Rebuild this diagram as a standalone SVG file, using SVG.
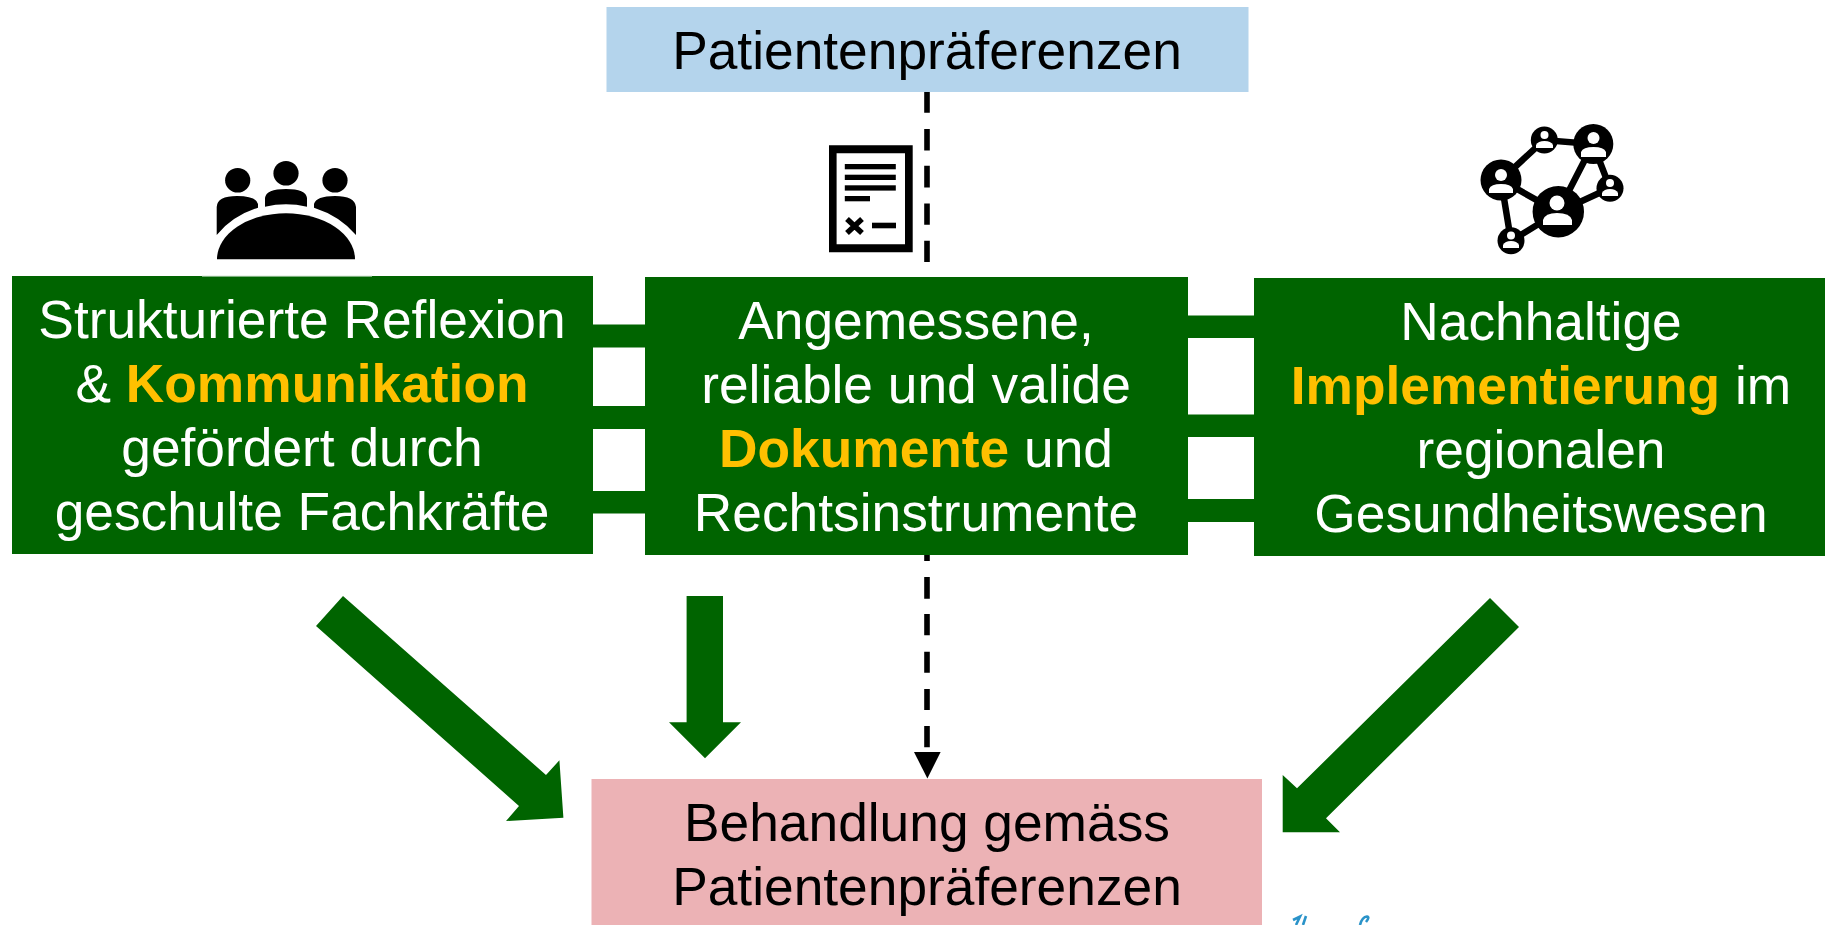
<svg xmlns="http://www.w3.org/2000/svg" width="1825" height="925" viewBox="0 0 1825 925">
<style>
.g{fill:#006400}
text{font-family:"Liberation Sans",Arial,sans-serif;font-size:53.3px;text-anchor:middle}
.w{fill:#fff}.k{fill:#000}.y{fill:#ffc000;font-weight:700}
.d{stroke:#000;stroke-width:5.6;fill:none}
.i{fill:#000}.c{fill:#fff}
</style>
<rect width="1825" height="925" fill="#fff"/>
<g id="connectors">
<g class="g">
<rect x="590" y="324.5" width="60" height="23"/><rect x="590" y="406" width="60" height="23"/><rect x="590" y="491" width="60" height="22.5"/>
<rect x="1185" y="315.5" width="72" height="22.5"/><rect x="1185" y="414.5" width="72" height="22.5"/><rect x="1185" y="499" width="72" height="23"/>
<polygon points="343,596 316,626 519,806 506,821 563.4,817.7 559.4,760.3 546,775"/>
<polygon points="686.6,596 723,596 723,722.3 741,722.3 705,758.3 669,722.3 686.6,722.3"/>
<polygon points="1490,598 1519,627 1326,818.3 1340,832.3 1282.7,832.3 1282.7,775 1297,788.3"/>
</g>
<path class="d" stroke-dasharray="20.7 16.4 21.3 15.4 21.6 16 21.4 16 21.7" d="M927 92V262"/>
<path class="d" stroke-dasharray="6 16 21.7 15.3 21.3 16.4 21 16.3 21 16 21.3" d="M927 555V747.3"/>
<polygon class="k" points="914,752 940.6,752 927.4,778.5"/>
</g>
<g id="n-top"><rect x="606.5" y="7" width="642" height="85" fill="#b4d4ec"/><text class="k" x="927" y="68.5">Patientenpräferenzen</text></g>
<g id="n-left"><rect x="12" y="276" width="581" height="278" class="g"/>
<text class="w" x="302" y="337.5">Strukturierte Reflexion</text>
<text class="w" x="302" y="401.5">&amp; <tspan class="y">Kommunikation</tspan></text>
<text class="w" x="302" y="465.5">gefördert durch</text>
<text class="w" x="302" y="529.5">geschulte Fachkräfte</text></g>
<g id="n-center"><rect x="645" y="277" width="543" height="278" class="g"/>
<text class="w" x="916" y="338.5">Angemessene,</text>
<text class="w" x="916" y="402.5">reliable und valide</text>
<text class="w" x="916" y="466.5"><tspan class="y">Dokumente</tspan> und</text>
<text class="w" x="916" y="530.5">Rechtsinstrumente</text></g>
<g id="n-right"><rect x="1254" y="278" width="571" height="278" class="g"/>
<text class="w" x="1541" y="339.5">Nachhaltige</text>
<text class="w" x="1541" y="404"><tspan class="y">Implementierung</tspan> im</text>
<text class="w" x="1541" y="468">regionalen</text>
<text class="w" x="1541" y="531.5">Gesundheitswesen</text></g>
<g id="n-bottom"><rect x="591.5" y="779" width="670.5" height="146" fill="#ecb2b5"/>
<text class="k" x="927" y="840.5">Behandlung gemäss</text>
<text class="k" x="927" y="904.5">Patientenpräferenzen</text></g>
<g id="icon-meeting">
<rect x="202" y="275.6" width="170" height="1" fill="#cfe3cf"/>
<ellipse class="i" cx="237.7" cy="180.3" rx="12.6" ry="12.3"/><ellipse class="i" cx="286" cy="173.3" rx="12.6" ry="12.3"/><ellipse class="i" cx="335" cy="180.3" rx="12.6" ry="12.3"/>
<path class="i" d="M217 259.3A69 46 0 0 1 355 259.3Z"/>
<path class="i" d="M216.7 235V207Q217 196 237 196Q256 196 258 204V207.7Q232 216 216.7 235Z"/>
<path class="i" d="M356 235V207Q355 196 335 196Q316 196 314 204V207.7Q340 216 356 235Z"/>
<path class="i" d="M265 206.7V198Q266 189 286 189Q306 189 307 198V206.7Q286 202 265 206.7Z"/>
</g>
<g id="icon-document">
<path class="i" fill-rule="evenodd" d="M829 145.3H912.7V252.3H829ZM836.6 153.3V244.3H905V153.3Z"/>
<rect class="i" x="844.8" y="164" width="51" height="5.3"/><rect class="i" x="844.8" y="174.7" width="51" height="5.3"/><rect class="i" x="844.8" y="185.3" width="51" height="5.3"/><rect class="i" x="844.8" y="196" width="25.2" height="5.3"/>
<path d="M847 219L862 233M862 219L847 233" stroke="#000" stroke-width="5.5" fill="none"/>
<rect class="i" x="872" y="222.7" width="24" height="5.6"/>
</g>
<g id="icon-network">
<path d="M1501 180L1544 140L1593 144L1558 212L1501 180L1511 241L1558 212L1610 188L1593 144" stroke="#000" stroke-width="6.5" fill="none"/>
<circle class="i" cx="1558.3" cy="211.7" r="25.7"/><circle class="i" cx="1501" cy="180" r="20.5"/><circle class="i" cx="1593.3" cy="144" r="20"/><circle class="i" cx="1544.3" cy="140" r="13.5"/><circle class="i" cx="1610" cy="188.3" r="13.5"/><circle class="i" cx="1511" cy="240.7" r="13.5"/>
<circle class="c" cx="1557" cy="203" r="7.5"/><path class="c" d="M1543 225V220Q1545 213 1557 213Q1570 213 1572 220V225Z"/>
<circle class="c" cx="1501" cy="175" r="6"/><path class="c" d="M1489 193V189Q1491 184 1501 184Q1511 184 1513 189V193Z"/>
<circle class="c" cx="1593.5" cy="138" r="6"/><path class="c" d="M1581 157V152Q1583 147 1593.5 147Q1604 147 1606 152V157Z"/>
<circle class="c" cx="1544.5" cy="135" r="4"/><path class="c" d="M1536 148V145Q1538 141 1544.5 141Q1551 141 1553 145V148Z"/>
<circle class="c" cx="1610" cy="183" r="4"/><path class="c" d="M1602 196V193Q1604 189 1610 189Q1616 189 1618 193V196Z"/>
<circle class="c" cx="1511" cy="235.5" r="4"/><path class="c" d="M1503 248V245Q1505 241 1511 241Q1517 241 1519 245V248Z"/>
</g>
<path d="M1293 920L1300 916.5L1296 925M1306 916L1303 925M1360 925Q1362 917 1367 916.5Q1370 917 1366 922" stroke="#2a93c9" stroke-width="2.6" fill="none"/>
</svg>
